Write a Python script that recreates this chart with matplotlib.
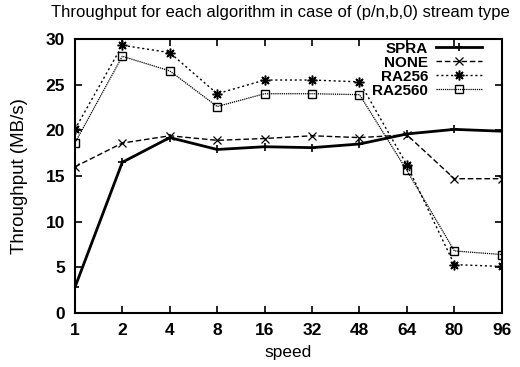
import matplotlib
matplotlib.use("Agg")
import matplotlib.pyplot as plt

speeds = ["1", "2", "4", "8", "16", "32", "48", "64", "80", "96"]
spra = [2.8, 16.5, 19.2, 17.9, 18.2, 18.1, 18.5, 19.6, 20.1, 19.9]
none = [16.0, 18.6, 19.4, 18.9, 19.1, 19.4, 19.2, 19.5, 14.7, 14.7]
ra256 = [20.1, 29.3, 28.5, 24.0, 25.5, 25.5, 25.3, 16.2, 5.3, 5.1]
ra2560 = [18.6, 28.1, 26.5, 22.6, 24.0, 24.0, 23.9, 15.6, 6.8, 6.4]

plt.rcParams['font.family'] = ['Liberation Sans', 'DejaVu Sans']

fig = plt.figure(figsize=(5.2, 3.67), dpi=100)
ax = fig.add_axes([0.144, 0.147, 0.821, 0.747])

ax.plot(speeds, spra, color='black', lw=2.0, ls='-', marker='+', ms=6, mew=1.2, label='SPRA')
ax.plot(speeds, none, color='black', lw=1.0, ls=(0, (4, 2)), marker='x', ms=6, mew=0.9, label='NONE')
ax.plot(speeds, ra256, color='black', lw=1.0, ls=(0, (1.5, 2)), marker=(8, 2, 0), ms=7, mew=1.1, label='RA256')
ax.plot(speeds, ra2560, color='black', lw=0.9, ls=(0, (1, 0.7)), marker='s', ms=6, mfc='none', mew=1.0, label='RA2560')

ax.set_xlim(0, len(speeds) - 1)
ax.set_ylim(0, 30)
ax.set_yticks([0, 5, 10, 15, 20, 25, 30])
ax.tick_params(direction='in', length=5, width=1.2, top=True, right=True, labelsize=12.5, pad=7)
for lbl in ax.get_xticklabels() + ax.get_yticklabels():
    lbl.set_fontweight('bold')
for s in ax.spines.values():
    s.set_linewidth(1.5)

ax.set_xlabel('speed', fontsize=12.5, labelpad=5)
ax.set_ylabel('Throughput (MB/s)', fontsize=13.5, labelpad=13)
fig.text(0.54, 0.965, 'Throughput for each algorithm in case of (p/n,b,0) stream type',
         ha='center', va='center', fontsize=12)

leg = ax.legend(loc='upper right', bbox_to_anchor=(0.953, 0.99), frameon=False, markerfirst=False,
                labelspacing=0.0, handlelength=3.0, handletextpad=0.5,
                borderaxespad=0, borderpad=0,
                prop={'weight': 'bold', 'size': 11})
fig.savefig('out.png', dpi=100)
